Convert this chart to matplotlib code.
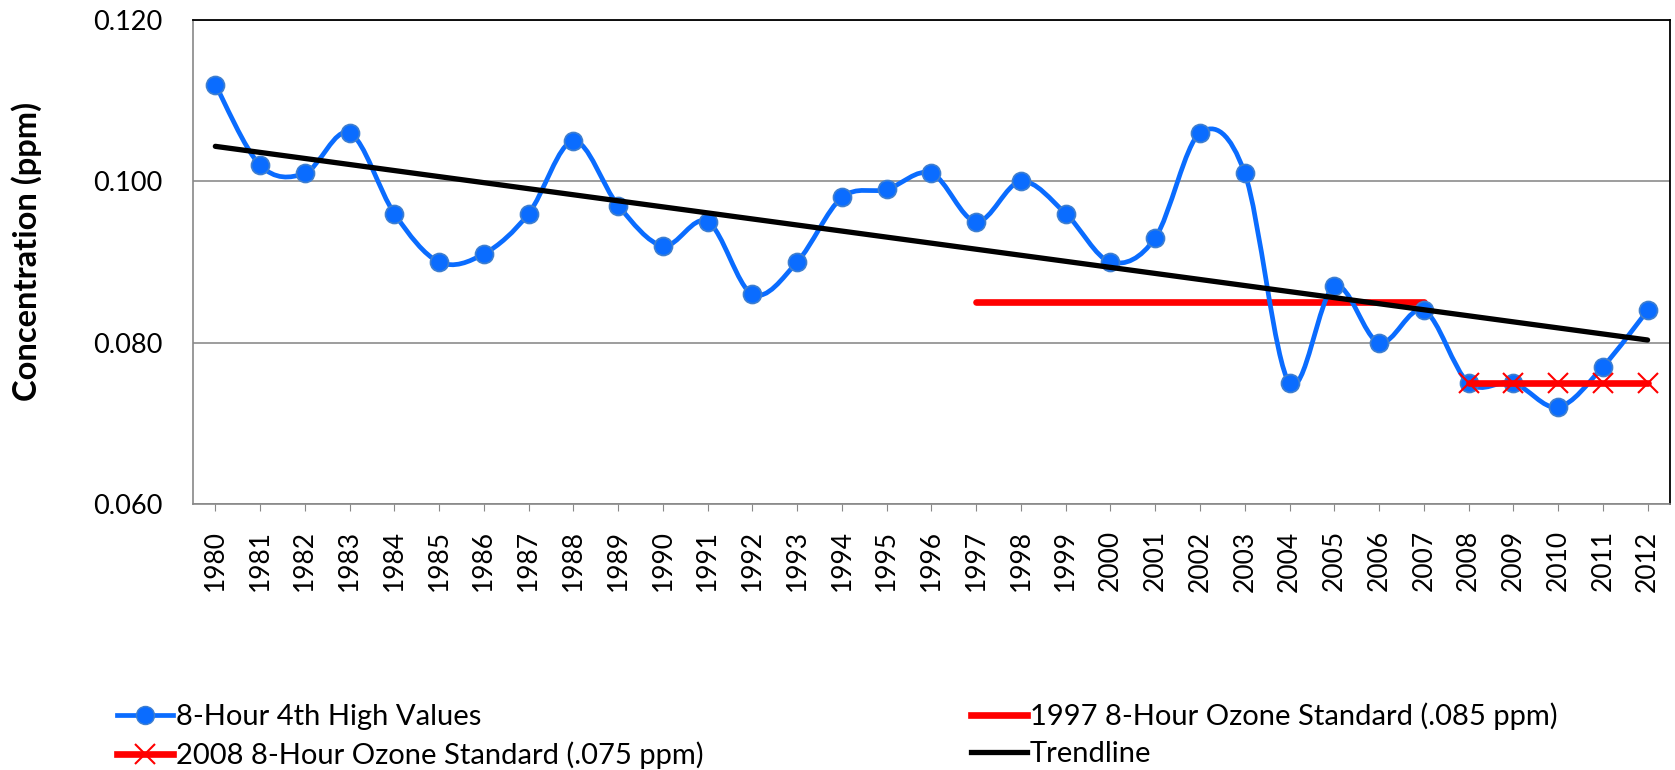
import numpy as np
import matplotlib
matplotlib.use("Agg")
import matplotlib.pyplot as plt
from matplotlib.path import Path
from matplotlib.patches import PathPatch
from matplotlib.lines import Line2D

plt.rcParams['font.family'] = ['Lato', 'DejaVu Sans']

years = list(range(1980, 2013))
ozone = [0.112, 0.102, 0.101, 0.106, 0.096, 0.090, 0.091, 0.096, 0.105, 0.097,
         0.092, 0.095, 0.086, 0.090, 0.098, 0.099, 0.101, 0.095, 0.100, 0.096,
         0.090, 0.093, 0.106, 0.101, 0.075, 0.087, 0.080, 0.084, 0.075, 0.075,
         0.072, 0.077, 0.084]
std1997_years = list(range(1997, 2008))
std1997 = [0.085] * len(std1997_years)
std2008_years = list(range(2008, 2013))
std2008 = [0.075] * len(std2008_years)

BLUE = '#0a6cff'
RED = '#ff0000'


def smooth_path(x, y):
    # Catmull-Rom style bezier, like the "smoothed line" option in spreadsheets
    pts = np.column_stack([x, y]).astype(float)
    verts = [pts[0]]
    codes = [Path.MOVETO]
    n = len(pts)
    for i in range(n - 1):
        p0 = pts[max(i - 1, 0)]
        p1 = pts[i]
        p2 = pts[i + 1]
        p3 = pts[min(i + 2, n - 1)]
        verts += [p1 + (p2 - p0) / 6.0, p2 - (p3 - p1) / 6.0, p2]
        codes += [Path.CURVE4] * 3
    return Path(verts, codes)


fig = plt.figure(figsize=(16.75, 7.7), dpi=100)
ax = fig.add_axes([0.1152, 0.3455, 0.8818, 0.6285])

ax.add_patch(PathPatch(smooth_path(years, ozone), fill=False, edgecolor=BLUE,
                       lw=3.4, capstyle='round', joinstyle='round', zorder=3))
ax.plot(years, ozone, ls='none', marker='o', ms=13, mfc=BLUE, mec='#3f7fcf',
        mew=1.2, zorder=4)

ax.plot(std1997_years, std1997, color=RED, lw=4.8, solid_capstyle='round', zorder=2)
ax.plot(std2008_years, std2008, color=RED, lw=4.8, marker='x', ms=15, mew=1.5,
        solid_capstyle='round', zorder=5)

slope, icpt = np.polyfit(years, ozone, 1)
tx = np.array([years[0], years[-1]])
ax.plot(tx, slope * tx + icpt, color='black', lw=3.8, solid_capstyle='round', zorder=4)

ax.set_xlim(years[0] - 0.5, years[-1] + 0.5)
ax.set_ylim(0.060, 0.120)
ax.set_yticks([0.060, 0.080, 0.100, 0.120])
ax.set_yticklabels(['0.060', '0.080', '0.100', '0.120'])
ax.set_xticks(years)
ax.set_xticklabels([str(y) for y in years], rotation=90)
ax.tick_params(axis='y', length=0, pad=22, labelsize=19.5)
ax.tick_params(axis='x', length=5, color='#888888', pad=14, labelsize=19)
ax.yaxis.grid(True, color='#8c8c8c', lw=1.2)
ax.set_axisbelow(True)
for s in ['left', 'bottom']:
    ax.spines[s].set_color('#888888')
    ax.spines[s].set_linewidth(1.2)
for s in ['top', 'right']:
    ax.spines[s].set_color('black')
    ax.spines[s].set_linewidth(1.3)

fig.text(0.016, 0.674, 'Concentration (ppm)', rotation=90, fontsize=23.5,
         fontweight='bold', ha='center', va='center')

handles = [
    Line2D([], [], color=BLUE, lw=3.4, marker='o', ms=13, mfc=BLUE, mec='#3f7fcf'),
    Line2D([], [], color=RED, lw=4.8, marker='x', ms=15, mew=1.5),
    Line2D([], [], color=RED, lw=4.8),
    Line2D([], [], color='black', lw=3.8),
]
labels = ['8-Hour 4th High Values', '2008 8-Hour Ozone Standard (.075 ppm)',
          '1997 8-Hour Ozone Standard (.085 ppm)', 'Trendline']
fig.legend(handles, labels, ncol=2, loc='upper left', bbox_to_anchor=(0.063, 0.103),
           frameon=False, fontsize=21, handlelength=1.9, handletextpad=0.1,
           columnspacing=9.2, labelspacing=0.39, borderaxespad=0)

fig.savefig('out.png', dpi=100)
